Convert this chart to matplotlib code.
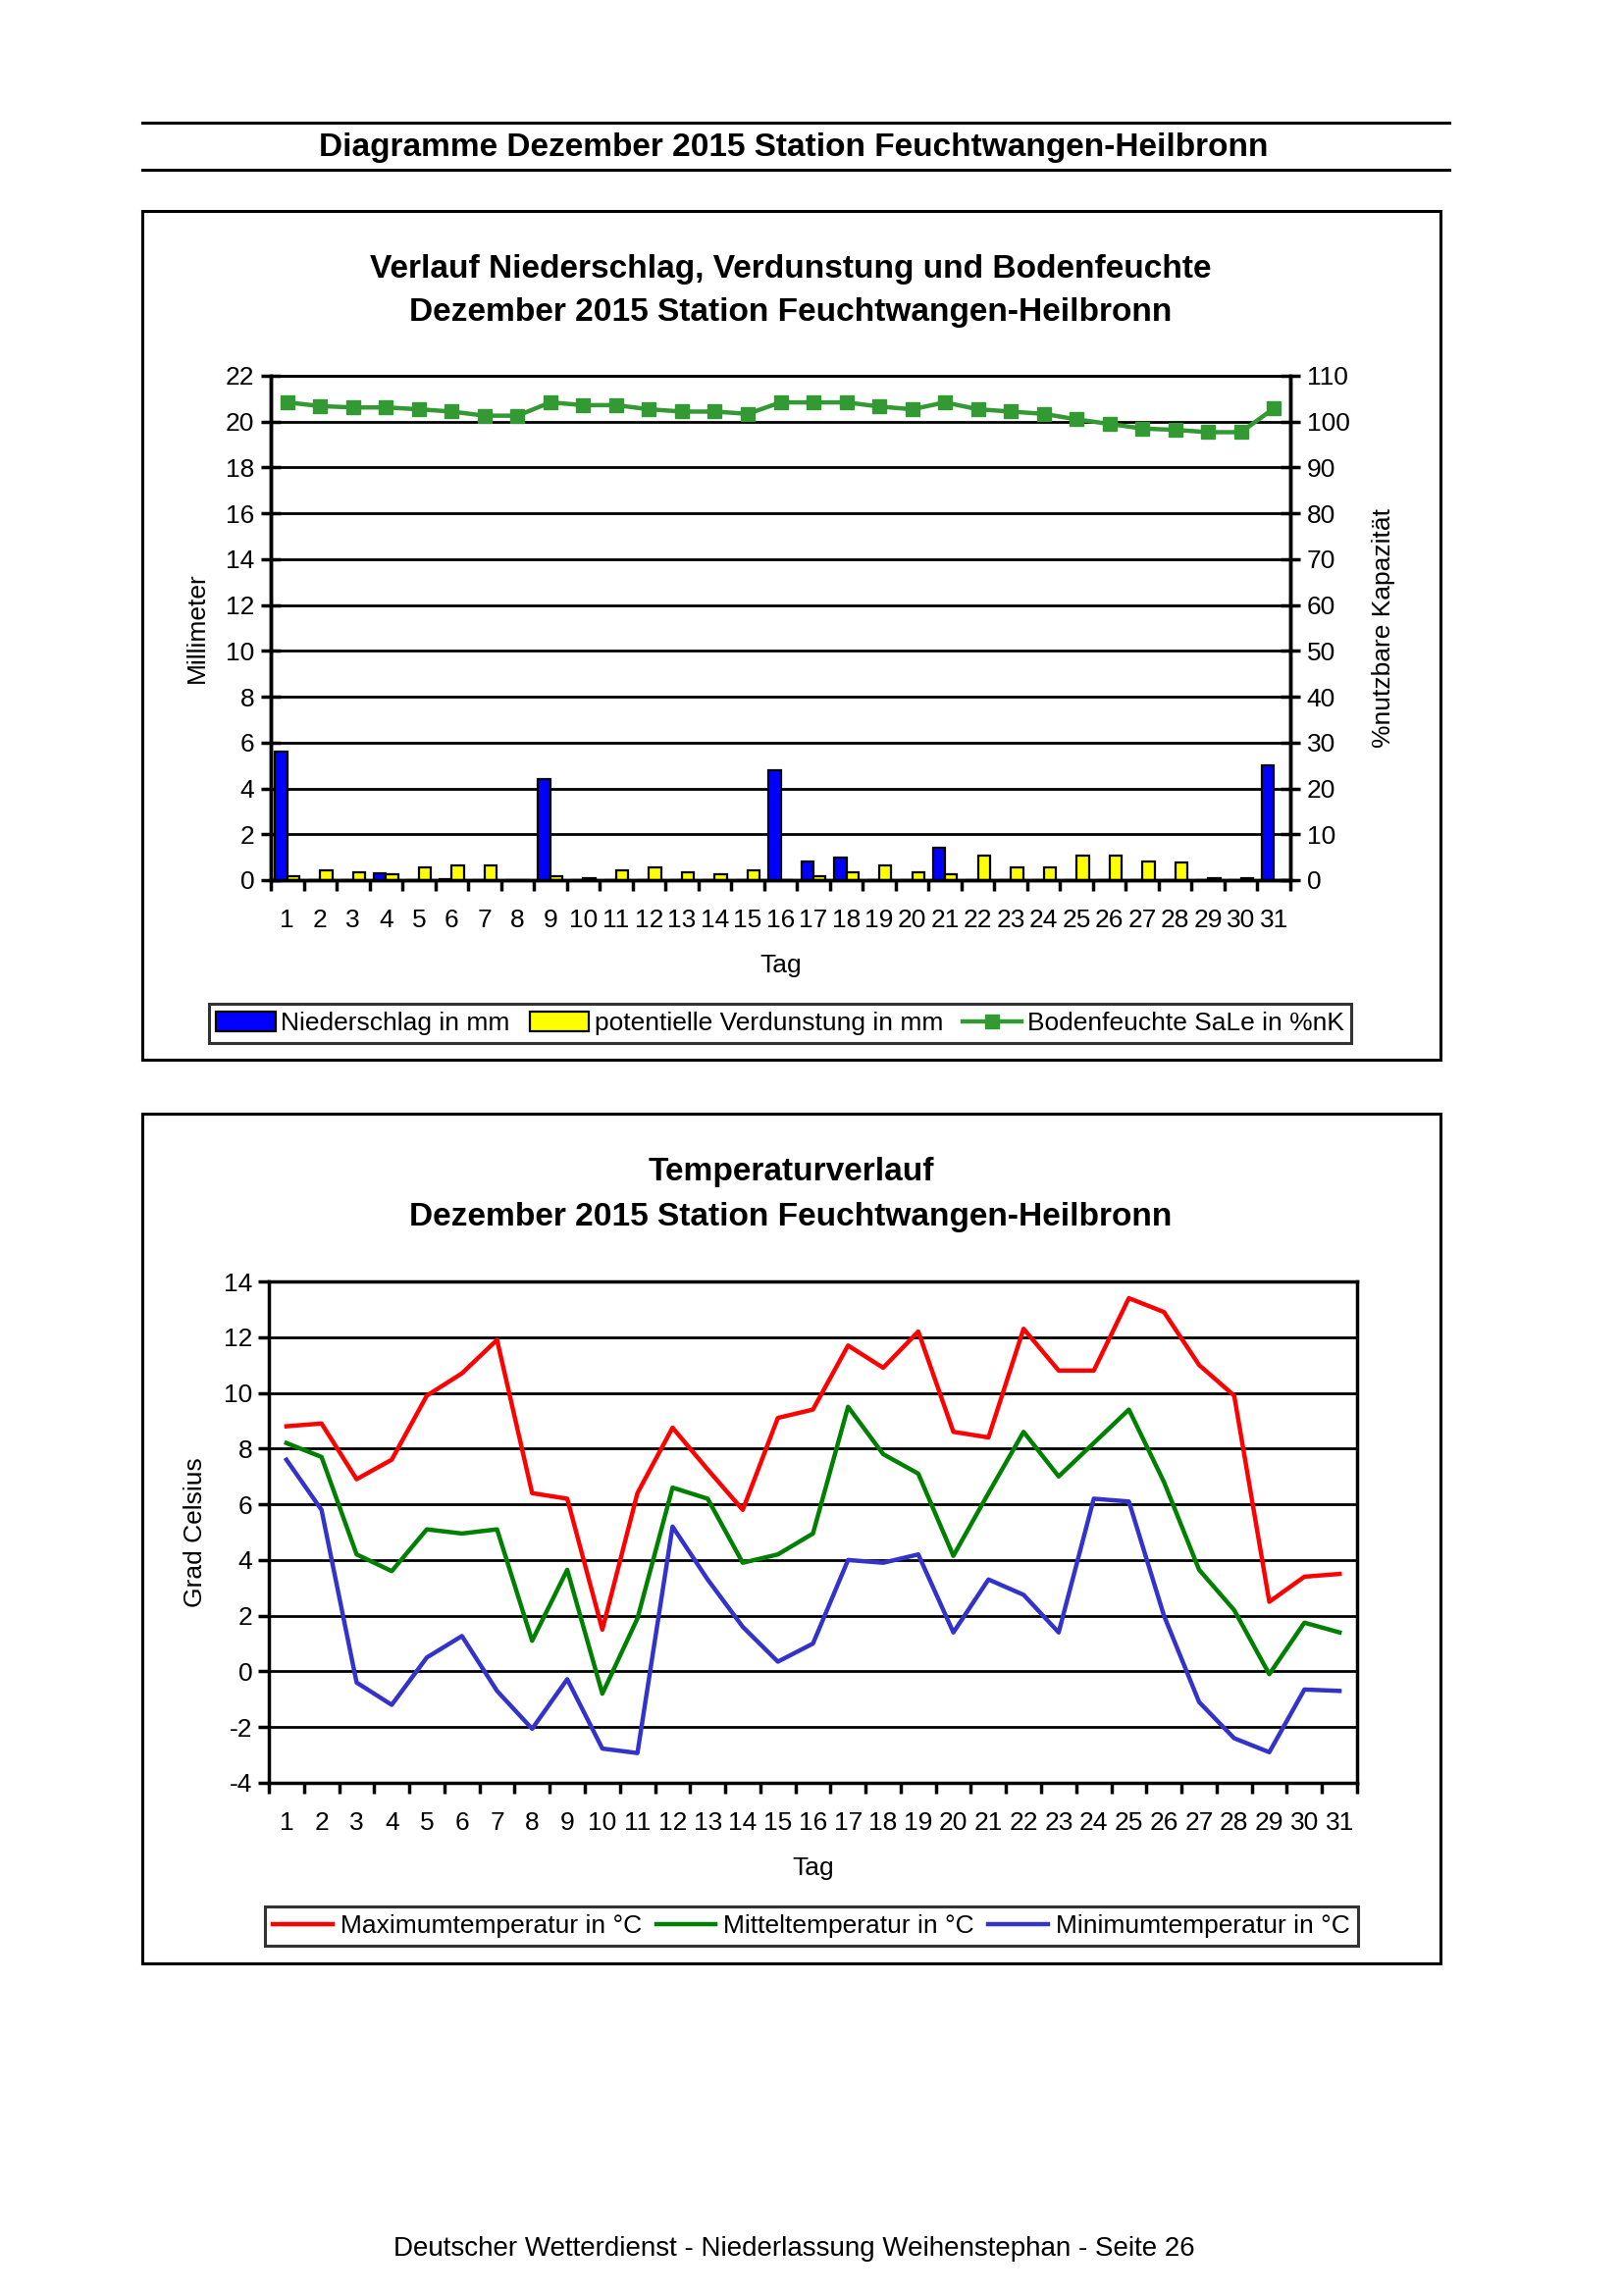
import matplotlib
matplotlib.use('Agg')
import matplotlib.pyplot as plt
from matplotlib.patches import Rectangle, Patch
from matplotlib.lines import Line2D
import numpy as np

plt.rcParams['font.family'] = ['Liberation Sans', 'DejaVu Sans']
plt.rcParams['axes.unicode_minus'] = False

W, H = 1653, 2340
DPI = 100

# ---------------- data ----------------
days = list(range(1, 32))
day_labels = [str(d) for d in days]

niederschlag = [5.6, 0, 0, 0.3, 0, 0.05, 0, 0, 4.4, 0, 0, 0, 0, 0, 0, 4.8,
                0.8, 1.0, 0, 0, 1.4, 0, 0, 0, 0, 0, 0, 0, 0, 0, 5.0]
verdunstung = [0.15, 0.43, 0.35, 0.25, 0.55, 0.65, 0.65, 0, 0.15, 0.07, 0.43, 0.55, 0.35, 0.25, 0.43, 0,
               0.15, 0.35, 0.65, 0.35, 0.25, 1.07, 0.55, 0.55, 1.07, 1.07, 0.8, 0.75, 0.07, 0.1, 0]
bodenfeuchte = [104.2, 103.4, 103.1, 103.1, 102.7, 102.2, 101.3, 101.3, 104.2, 103.6, 103.6, 102.7,
                102.2, 102.2, 101.7, 104.2, 104.2, 104.2, 103.3, 102.7, 104.2, 102.7, 102.2, 101.7,
                100.5, 99.5, 98.5, 98.2, 97.7, 97.7, 102.9]

tmax = [8.8, 8.9, 6.9, 7.6, 9.9, 10.7, 11.9, 6.4, 6.2, 1.5, 6.4, 8.75, 7.25, 5.8, 9.1, 9.4,
        11.7, 10.9, 12.2, 8.6, 8.4, 12.3, 10.8, 10.8, 13.4, 12.9, 11.0, 9.9, 2.5, 3.4, 3.5]
tmean = [8.2, 7.7, 4.2, 3.6, 5.1, 4.95, 5.1, 1.1, 3.65, -0.8, 1.9, 6.6, 6.2, 3.9, 4.2, 4.95,
         9.5, 7.8, 7.1, 4.15, 6.4, 8.6, 7.0, 8.2, 9.4, 6.8, 3.65, 2.2, -0.1, 1.75, 1.4]
tmin = [7.6, 5.8, -0.4, -1.2, 0.5, 1.27, -0.7, -2.06, -0.28, -2.77, -2.93, 5.2, 3.3, 1.6, 0.35, 1.0,
        4.0, 3.9, 4.2, 1.4, 3.3, 2.75, 1.4, 6.2, 6.1, 2.0, -1.1, -2.4, -2.9, -0.65, -0.7]

header = "Diagramme Dezember 2015 Station Feuchtwangen-Heilbronn"
title1 = ["Verlauf Niederschlag, Verdunstung und Bodenfeuchte",
          "Dezember 2015 Station Feuchtwangen-Heilbronn"]
title2 = ["Temperaturverlauf", "Dezember 2015 Station Feuchtwangen-Heilbronn"]
footer = "Deutscher Wetterdienst - Niederlassung Weihenstephan - Seite 26"

# ---------------- figure ----------------
fig = plt.figure(figsize=(W / DPI, H / DPI), dpi=DPI)
fig.patch.set_facecolor('white')


def fx(x):
    return x / W


def fy(y):
    return 1 - y / H


def rect(x0, y0, x1, y1):
    return [fx(x0), fy(y1), (x1 - x0) / W, (y1 - y0) / H]


renderer = fig.canvas.get_renderer()


def fit_text(x, y, s, width, size0=18, **kw):
    t = fig.text(fx(x), fy(y), s, ha='center', va='center', fontsize=size0, **kw)
    w = t.get_window_extent(renderer).width
    t.set_fontsize(size0 * width / w)
    return t


# header lines and text
for yy in (125, 173):
    fig.add_artist(Line2D([fx(145), fx(1477)], [fy(yy), fy(yy)], color='black', lw=2.2))
fit_text(809, 151, header, 965, weight='bold')

# boxes
for (x0, y0, x1, y1) in [(145, 215, 1468, 1080), (145, 1135, 1468, 2001)]:
    fig.add_artist(Rectangle((fx(x0), fy(y1)), (x1 - x0) / W, (y1 - y0) / H,
                             fill=False, edgecolor='black', lw=2.2, transform=fig.transFigure))

fit_text(806, 274, title1[0], 859, weight='bold')
fit_text(806, 318, title1[1], 778, weight='bold')
fit_text(806, 1195, title2[0], 292, weight='bold')
fit_text(806, 1240, title2[1], 778, weight='bold')
fit_text(809, 2292, footer, 819)

TICK_FS = 19
GRID_LW = 2.0
AX_LW = 2.5

# ---------------- chart 1 ----------------
ax1 = fig.add_axes(rect(276, 383, 1315, 897))
x = np.array(days, dtype=float)
bw = 0.37
ax1.bar(x - bw / 2, niederschlag, width=bw, color='#0000FF', edgecolor='black', lw=1.6,
        label='Niederschlag in mm', zorder=3)
ax1.bar(x + bw / 2, verdunstung, width=bw, color='#FFFF00', edgecolor='black', lw=1.6,
        label='potentielle Verdunstung in mm', zorder=3)
ax1.set_xlim(0.5, 31.5)
ax1.set_ylim(0, 22)
ax1.set_yticks(np.arange(0, 23, 2))
ax1.yaxis.grid(True, color='black', lw=GRID_LW, zorder=1)
ax1.set_axisbelow(True)
ax1.set_xticks(days)
ax1.set_xticklabels(day_labels)
ax1.set_xticks(np.arange(0.5, 32, 1), minor=True)
ax1.tick_params(axis='x', which='major', length=0, pad=21, labelsize=TICK_FS)
ax1.tick_params(axis='x', which='minor', length=8, width=AX_LW, direction='out')
ax1.tick_params(axis='y', length=14, width=AX_LW, direction='inout', labelsize=TICK_FS, pad=5)
for s in ax1.spines.values():
    s.set_linewidth(AX_LW)
ax1.spines['top'].set_linewidth(GRID_LW)
ax1.set_ylabel('Millimeter', fontsize=TICK_FS, labelpad=12)
ax1.set_xlabel('Tag', fontsize=TICK_FS, labelpad=16)

ax1b = ax1.twinx()
ax1b.plot(days, bodenfeuchte, color='#339933', lw=3.2, marker='s', markersize=9.5,
          label='Bodenfeuchte SaLe in %nK', zorder=4)
ax1b.set_ylim(0, 110)
ax1b.set_yticks(np.arange(0, 111, 10))
ax1b.tick_params(axis='y', length=14, width=AX_LW, direction='inout', labelsize=TICK_FS, pad=5)
for s in ax1b.spines.values():
    s.set_linewidth(AX_LW)
ax1b.spines['top'].set_linewidth(GRID_LW)
ax1b.set_ylabel('%nutzbare Kapazität', fontsize=TICK_FS, labelpad=16)

handles1 = [Patch(facecolor='#0000FF', edgecolor='black', lw=1.6, label='Niederschlag in mm'),
            Patch(facecolor='#FFFF00', edgecolor='black', lw=1.6, label='potentielle Verdunstung in mm'),
            Line2D([], [], color='#339933', lw=3.2, marker='s', markersize=9.5, label='Bodenfeuchte SaLe in %nK')]
leg1 = fig.legend(handles=handles1, loc='center', bbox_to_anchor=(fx(795), fy(1043)), ncol=3,
                  fontsize=TICK_FS, frameon=True, fancybox=False, edgecolor='black',
                  handlelength=2.3, handletextpad=0.2, columnspacing=0.75, borderpad=0.3,
                  handleheight=0.8)
leg1.get_frame().set_linewidth(2.2)

# ---------------- chart 2 ----------------
ax2 = fig.add_axes(rect(274, 1306, 1383, 1817))
ax2.plot(days, tmax, color='#FF0000', lw=3.2, label='Maximumtemperatur in °C', zorder=3)
ax2.plot(days, tmean, color='#008000', lw=3.2, label='Mitteltemperatur in °C', zorder=3)
ax2.plot(days, tmin, color='#3333CC', lw=3.2, label='Minimumtemperatur in °C', zorder=3)
ax2.set_xlim(0.5, 31.5)
ax2.set_ylim(-4, 14)
ax2.set_yticks(np.arange(-4, 15, 2))
ax2.yaxis.grid(True, color='black', lw=GRID_LW, zorder=1)
ax2.set_axisbelow(True)
ax2.set_xticks(days)
ax2.set_xticklabels(day_labels)
ax2.set_xticks(np.arange(0.5, 32, 1), minor=True)
ax2.tick_params(axis='x', which='major', length=0, pad=21, labelsize=TICK_FS)
ax2.tick_params(axis='x', which='minor', length=8, width=AX_LW, direction='out')
ax2.tick_params(axis='y', length=8, width=AX_LW, direction='out', labelsize=TICK_FS, pad=4)
for s in ax2.spines.values():
    s.set_linewidth(AX_LW)
ax2.set_ylabel('Grad Celsius', fontsize=TICK_FS, labelpad=12)
ax2.set_xlabel('Tag', fontsize=TICK_FS, labelpad=16)

leg2 = fig.legend(loc='center', handles=ax2.get_lines(), bbox_to_anchor=(fx(827), fy(1963)), ncol=3,
                  fontsize=TICK_FS, frameon=True, fancybox=False, edgecolor='black',
                  handlelength=2.3, handletextpad=0.3, columnspacing=0.55, borderpad=0.3)
leg2.get_frame().set_linewidth(2.2)

fig.savefig('out.png', dpi=DPI, facecolor='white')
